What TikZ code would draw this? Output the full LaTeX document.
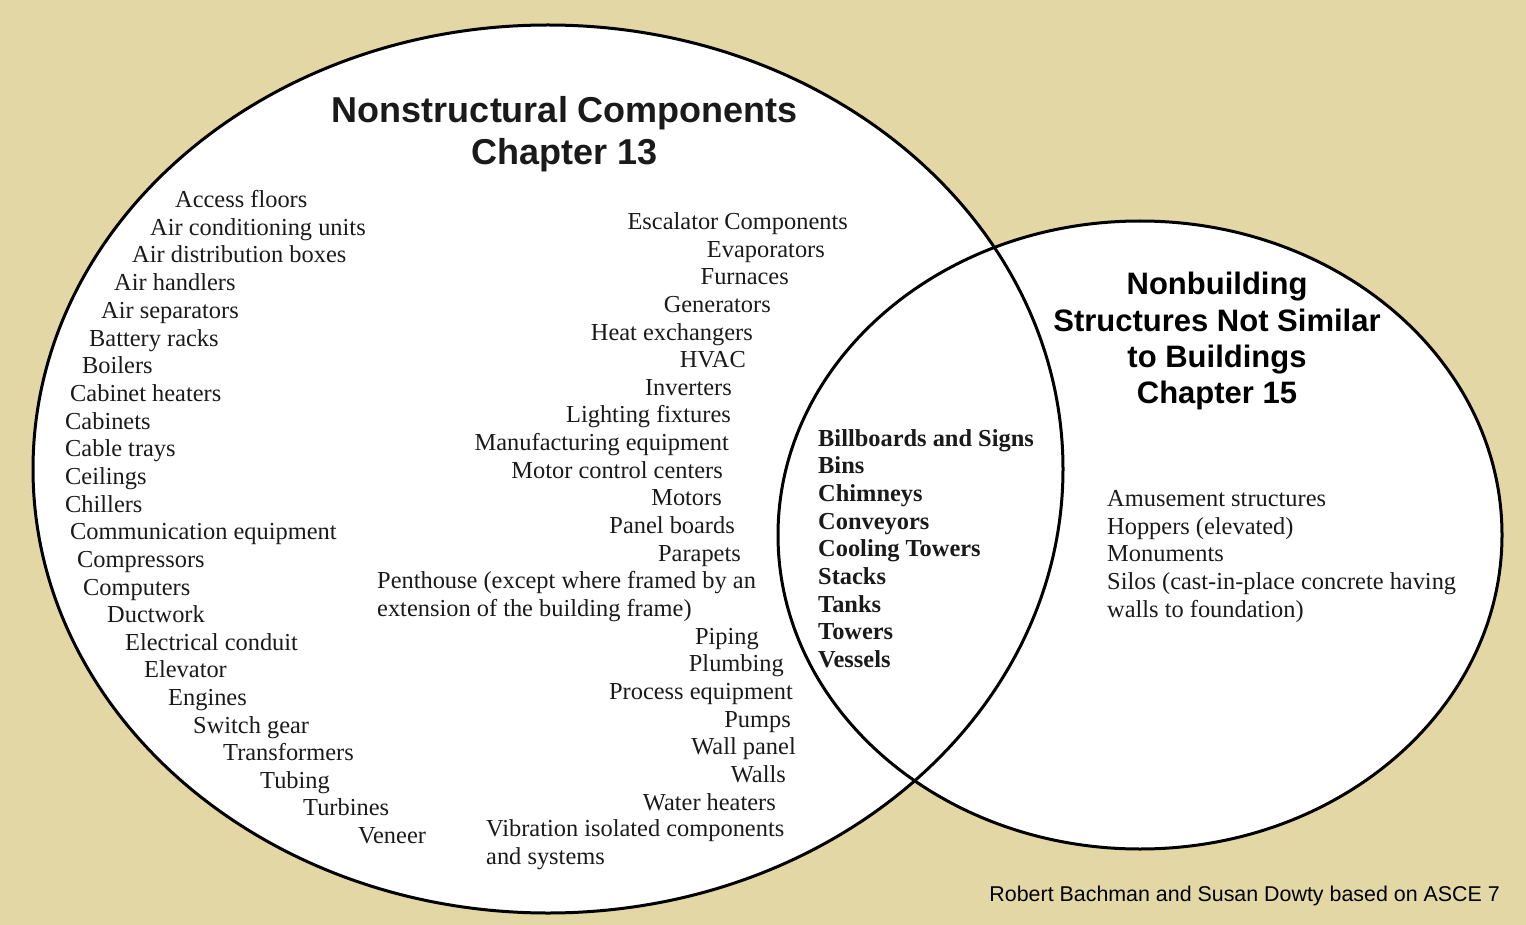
\documentclass[tikz,border=0pt]{standalone}
\usepackage{fontspec}
\setmainfont{Liberation Serif}
\newfontfamily\arialfont{Liberation Sans}
\definecolor{bgtan}{HTML}{E3D8A5}
\definecolor{inkc}{HTML}{1A1A1A}
\begin{document}
\begin{tikzpicture}[x=1pt,y=-1pt,
  itm/.style={inner sep=0pt, text=inkc, font=\fontsize{24.4}{28}\selectfont},
  bitm/.style={itm, font=\fontsize{24.4}{28}\selectfont\bfseries},
  ttl/.style={inner sep=0pt, text=inkc, font=\arialfont\bfseries\fontsize{36}{42}\selectfont},
  ttlb/.style={inner sep=0pt, text=black, font=\arialfont\bfseries\fontsize{31}{36}\selectfont},
  credit/.style={inner sep=0pt, text=black, font=\arialfont\fontsize{21.4}{25}\selectfont},
  lw/.style={anchor=base west},
  le/.style={anchor=base east},
  ring/.style={draw=black, line width=3pt}]
\fill[bgtan] (0,0) rectangle (1526,925);
\useasboundingbox (0,0) rectangle (1526,925);
% ellipses
\fill[white] (548,469) ellipse [x radius=515, y radius=444];
\fill[white] (1140,535) ellipse [x radius=362, y radius=314];
\draw[ring] (548,469) ellipse [x radius=515, y radius=444];
\draw[ring] (1140,535) ellipse [x radius=362, y radius=314];
% titles
\node[ttl, anchor=base] (t1) at (565,123) {Nonstructural Components};
\node[ttl, anchor=base] (t2) at (565,165) {Chapter 13};
\node[ttlb, anchor=base] (r1) at (1217,295) {Nonbuilding};
\node[ttlb, anchor=base] (r2) at (1217,331) {Structures Not Similar};
\node[ttlb, anchor=base] (r3) at (1217,367) {to Buildings};
\node[ttlb, anchor=base] (r4) at (1217,403) {Chapter 15};
% left column
\node[itm,lw] (a1) at (175,207.5) {Access floors};
\node[itm,lw] (a2) at (150,235.5) {Air conditioning units};
\node[itm,lw] (a3) at (132,262.5) {Air distribution boxes};
\node[itm,lw] (a4) at (114,290.5) {Air handlers};
\node[itm,lw] (a5) at (101,318.5) {Air separators};
\node[itm,lw] (a6) at (89,346.5) {Battery racks};
\node[itm,lw] (a7) at (82,373.5) {Boilers};
\node[itm,lw] (a8) at (70,401.5) {Cabinet heaters};
\node[itm,lw] (a9) at (65,429.5) {Cabinets};
\node[itm,lw] (a10) at (65,456.5) {Cable trays};
\node[itm,lw] (a11) at (65,484.5) {Ceilings};
\node[itm,lw] (a12) at (65,512.5) {Chillers};
\node[itm,lw] (a13) at (70,539.5) {Communication equipment};
\node[itm,lw] (a14) at (77,567.5) {Compressors};
\node[itm,lw] (a15) at (83,595.5) {Computers};
\node[itm,lw] (a16) at (107,622.5) {Ductwork};
\node[itm,lw] (a17) at (125,650.5) {Electrical conduit};
\node[itm,lw] (a18) at (144,677.5) {Elevator};
\node[itm,lw] (a19) at (168,705.5) {Engines};
\node[itm,lw] (a20) at (193,733.5) {Switch gear};
\node[itm,lw] (a21) at (223,760.5) {Transformers};
\node[itm,lw] (a22) at (260,788.5) {Tubing};
\node[itm,lw] (a23) at (303,815.5) {Turbines};
\node[itm,lw] (a24) at (358,843.5) {Veneer};
% middle column
\node[itm,le] (m1) at (848,229.5) {Escalator Components};
\node[itm,le] (m2) at (825,257.5) {Evaporators};
\node[itm,le] (m3) at (789,284.5) {Furnaces};
\node[itm,le] (m4) at (771,312.5) {Generators};
\node[itm,le] (m5) at (753,340.5) {Heat exchangers};
\node[itm,le] (m6) at (746,367.5) {HVAC};
\node[itm,le] (m7) at (732,395.5) {Inverters};
\node[itm,le] (m8) at (731,422.5) {Lighting fixtures};
\node[itm,le] (m9) at (729,450.5) {Manufacturing equipment};
\node[itm,le] (m10) at (723,478.5) {Motor control centers};
\node[itm,le] (m11) at (722,505.5) {Motors};
\node[itm,le] (m12) at (735,533.5) {Panel boards};
\node[itm,le] (m13) at (741,561.5) {Parapets};
\node[itm,lw] (m14) at (377,588.5) {Penthouse (except where framed by an};
\node[itm,lw] (m15) at (377,616.5) {extension of the building frame)};
\node[itm,le] (m16) at (759,644.5) {Piping};
\node[itm,le] (m17) at (784,671.5) {Plumbing};
\node[itm,le] (m18) at (793,699.5) {Process equipment};
\node[itm,le] (m19) at (791,727.5) {Pumps};
\node[itm,le] (m20) at (796,754.5) {Wall panel};
\node[itm,le] (m21) at (786,782.5) {Walls};
\node[itm,le] (m22) at (776,810.5) {Water heaters};
\node[itm,lw] (m23) at (486,836.5) {Vibration isolated components};
\node[itm,lw] (m24) at (486,864.5) {and systems};
% overlap
\node[bitm,lw] (o1) at (818,446.5) {Billboards and Signs};
\node[bitm,lw] (o2) at (818,473.5) {Bins};
\node[bitm,lw] (o3) at (818,501.5) {Chimneys};
\node[bitm,lw] (o4) at (818,529.5) {Conveyors};
\node[bitm,lw] (o5) at (818,556.5) {Cooling Towers};
\node[bitm,lw] (o6) at (818,584.5) {Stacks};
\node[bitm,lw] (o7) at (818,612.5) {Tanks};
\node[bitm,lw] (o8) at (818,639.5) {Towers};
\node[bitm,lw] (o9) at (818,667.5) {Vessels};
% right list
\node[itm,lw] (n1) at (1107,506.5) {Amusement structures};
\node[itm,lw] (n2) at (1107,534.5) {Hoppers (elevated)};
\node[itm,lw] (n3) at (1107,561.5) {Monuments};
\node[itm,lw] (n4) at (1107,589.5) {Silos (cast-in-place concrete having};
\node[itm,lw] (n5) at (1107,617.5) {walls to foundation)};
% credit
\node[credit, anchor=base east] (cr) at (1500,901) {Robert Bachman and Susan Dowty based on ASCE 7};
\end{tikzpicture}
\end{document}
